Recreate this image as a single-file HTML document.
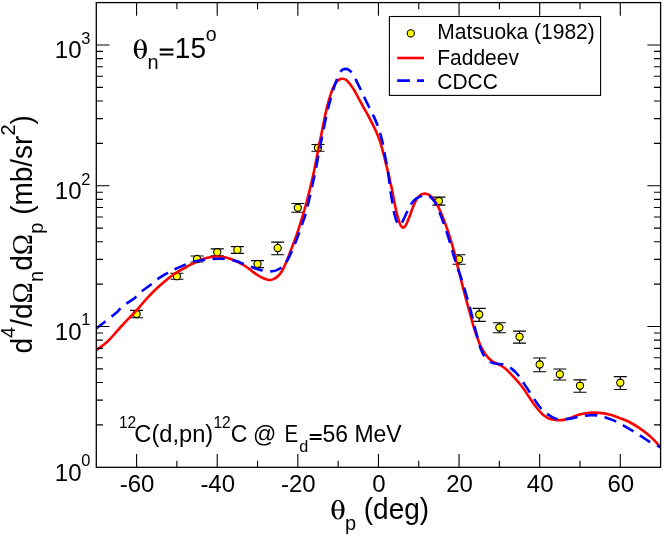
<!DOCTYPE html>
<html><head><meta charset="utf-8"><title>chart</title>
<style>html,body{margin:0;padding:0;background:#fff}svg{display:block;will-change:transform}text{font-family:"Liberation Sans",sans-serif;fill:#000}.g{font-family:"Liberation Serif",serif}</style></head>
<body>
<svg width="664" height="536" viewBox="0 0 664 536">
<rect x="0" y="0" width="664" height="536" fill="#fff"/>
<defs><clipPath id="cp"><rect x="96.30" y="2.60" width="564.30" height="464.70"/></clipPath></defs>
<path d="M136.61 310.41 V317.81 M130.11 310.41 h13 M130.11 317.81 h13 M176.91 273.27 V279.27 M170.41 273.27 h13 M170.41 279.27 h13 M197.07 256.07 V262.07 M190.57 256.07 h13 M190.57 262.07 h13 M217.22 248.89 V255.69 M210.72 248.89 h13 M210.72 255.69 h13 M237.38 246.59 V253.39 M230.88 246.59 h13 M230.88 253.39 h13 M257.53 260.60 V267.60 M251.03 260.60 h13 M251.03 267.60 h13 M277.68 242.12 V254.72 M271.18 242.12 h13 M271.18 254.72 h13 M297.84 203.46 V212.26 M291.34 203.46 h13 M291.34 212.26 h13 M317.99 144.49 V151.29 M311.49 144.49 h13 M311.49 151.29 h13 M438.91 197.13 V205.13 M432.41 197.13 h13 M432.41 205.13 h13 M459.06 254.69 V264.29 M452.56 254.69 h13 M452.56 264.29 h13 M479.22 308.34 V321.34 M472.72 308.34 h13 M472.72 321.34 h13 M499.37 322.70 V332.70 M492.87 322.70 h13 M492.87 332.70 h13 M519.53 331.09 V343.09 M513.03 331.09 h13 M513.03 343.09 h13 M539.68 357.99 V371.79 M533.18 357.99 h13 M533.18 371.79 h13 M559.83 369.05 V380.05 M553.33 369.05 h13 M553.33 380.05 h13 M579.99 379.91 V392.31 M573.49 379.91 h13 M573.49 392.31 h13 M620.29 376.63 V389.43 M613.79 376.63 h13 M613.79 389.43 h13" stroke="#000" stroke-width="1.1" fill="none"/>
<circle cx="136.61" cy="314.00" r="3.6" fill="#ffff00" stroke="#000" stroke-width="1.1"/>
<circle cx="176.91" cy="276.20" r="3.6" fill="#ffff00" stroke="#000" stroke-width="1.1"/>
<circle cx="197.07" cy="259.00" r="3.6" fill="#ffff00" stroke="#000" stroke-width="1.1"/>
<circle cx="217.22" cy="252.20" r="3.6" fill="#ffff00" stroke="#000" stroke-width="1.1"/>
<circle cx="237.38" cy="249.90" r="3.6" fill="#ffff00" stroke="#000" stroke-width="1.1"/>
<circle cx="257.53" cy="264.00" r="3.6" fill="#ffff00" stroke="#000" stroke-width="1.1"/>
<circle cx="277.68" cy="248.10" r="3.6" fill="#ffff00" stroke="#000" stroke-width="1.1"/>
<circle cx="297.84" cy="207.70" r="3.6" fill="#ffff00" stroke="#000" stroke-width="1.1"/>
<circle cx="317.99" cy="147.80" r="3.6" fill="#ffff00" stroke="#000" stroke-width="1.1"/>
<circle cx="438.91" cy="201.00" r="3.6" fill="#ffff00" stroke="#000" stroke-width="1.1"/>
<circle cx="459.06" cy="259.30" r="3.6" fill="#ffff00" stroke="#000" stroke-width="1.1"/>
<circle cx="479.22" cy="314.50" r="3.6" fill="#ffff00" stroke="#000" stroke-width="1.1"/>
<circle cx="499.37" cy="327.50" r="3.6" fill="#ffff00" stroke="#000" stroke-width="1.1"/>
<circle cx="519.53" cy="336.80" r="3.6" fill="#ffff00" stroke="#000" stroke-width="1.1"/>
<circle cx="539.68" cy="364.50" r="3.6" fill="#ffff00" stroke="#000" stroke-width="1.1"/>
<circle cx="559.83" cy="374.30" r="3.6" fill="#ffff00" stroke="#000" stroke-width="1.1"/>
<circle cx="579.99" cy="385.80" r="3.6" fill="#ffff00" stroke="#000" stroke-width="1.1"/>
<circle cx="620.29" cy="382.70" r="3.6" fill="#ffff00" stroke="#000" stroke-width="1.1"/>
<g clip-path="url(#cp)" fill="none" stroke-linejoin="round">
<path d="M96.20 350.30 C97.50 349.35 101.68 346.50 104.00 344.60 C106.32 342.70 108.08 340.97 110.10 338.90 C112.12 336.83 114.10 334.43 116.10 332.20 C118.10 329.97 119.95 327.83 122.10 325.50 C124.25 323.17 126.58 320.73 129.00 318.20 C131.42 315.67 134.43 312.67 136.60 310.30 C138.77 307.93 140.05 306.23 142.00 304.00 C143.95 301.77 145.87 299.48 148.30 296.90 C150.73 294.32 153.83 291.12 156.60 288.50 C159.37 285.88 162.15 283.48 164.90 281.20 C167.65 278.92 171.08 276.27 173.10 274.80 C175.12 273.33 175.62 273.27 177.00 272.40 C178.38 271.53 179.83 270.50 181.40 269.60 C182.97 268.70 184.70 267.90 186.40 267.00 C188.10 266.10 189.85 265.12 191.60 264.20 C193.35 263.28 195.13 262.32 196.90 261.50 C198.67 260.68 200.45 259.93 202.20 259.30 C203.95 258.67 205.65 258.12 207.40 257.70 C209.15 257.28 210.93 257.00 212.70 256.80 C214.47 256.60 216.23 256.47 218.00 256.50 C219.77 256.53 221.55 256.72 223.30 257.00 C225.05 257.28 226.65 257.62 228.50 258.20 C230.35 258.78 232.65 259.77 234.40 260.50 C236.15 261.23 237.37 261.77 239.00 262.60 C240.63 263.43 242.53 264.47 244.20 265.50 C245.87 266.53 247.37 267.62 249.00 268.80 C250.63 269.98 252.33 271.40 254.00 272.60 C255.67 273.80 257.42 275.05 259.00 276.00 C260.58 276.95 262.17 277.70 263.50 278.30 C264.83 278.90 265.85 279.32 267.00 279.60 C268.15 279.88 269.07 280.20 270.40 280.00 C271.73 279.80 273.48 279.28 275.00 278.40 C276.52 277.52 278.12 276.33 279.50 274.70 C280.88 273.07 282.05 271.00 283.30 268.60 C284.55 266.20 285.75 263.32 287.00 260.30 C288.25 257.28 289.55 253.77 290.80 250.50 C292.05 247.23 293.30 243.97 294.50 240.70 C295.70 237.43 296.98 233.92 298.00 230.90 C299.02 227.88 299.80 225.17 300.60 222.60 C301.40 220.03 301.83 218.77 302.80 215.50 C303.77 212.23 305.17 207.60 306.40 203.00 C307.63 198.40 308.93 193.18 310.20 187.90 C311.47 182.62 312.87 176.60 314.00 171.30 C315.13 166.00 316.12 160.63 317.00 156.10 C317.88 151.57 318.62 147.53 319.30 144.10 C319.98 140.67 320.28 139.52 321.10 135.50 C321.92 131.48 323.18 124.85 324.20 120.00 C325.22 115.15 326.20 110.43 327.20 106.40 C328.20 102.37 329.20 98.95 330.20 95.80 C331.20 92.65 332.18 89.77 333.20 87.50 C334.22 85.23 335.28 83.53 336.30 82.20 C337.32 80.87 338.25 80.08 339.30 79.50 C340.35 78.92 341.47 78.63 342.60 78.70 C343.73 78.77 344.90 79.07 346.10 79.90 C347.30 80.73 348.42 81.93 349.80 83.70 C351.18 85.47 352.88 87.98 354.40 90.50 C355.92 93.02 357.40 96.03 358.90 98.80 C360.40 101.57 361.88 104.33 363.40 107.10 C364.92 109.87 366.47 112.55 368.00 115.40 C369.53 118.25 371.17 121.33 372.60 124.20 C374.03 127.07 375.43 129.95 376.60 132.60 C377.77 135.25 378.58 137.08 379.60 140.10 C380.62 143.12 381.68 146.92 382.70 150.70 C383.72 154.48 384.70 158.78 385.70 162.80 C386.70 166.82 387.88 171.35 388.70 174.80 C389.52 178.25 390.07 181.12 390.60 183.50 C391.13 185.88 391.35 186.42 391.90 189.10 C392.45 191.78 393.20 196.08 393.90 199.60 C394.60 203.12 395.35 206.92 396.10 210.20 C396.85 213.48 397.63 216.78 398.40 219.30 C399.17 221.82 399.95 223.92 400.70 225.30 C401.45 226.68 402.15 227.47 402.90 227.60 C403.65 227.73 404.43 227.12 405.20 226.10 C405.97 225.08 406.62 223.52 407.50 221.50 C408.38 219.48 409.50 216.63 410.50 214.00 C411.50 211.37 412.50 208.10 413.50 205.70 C414.50 203.30 415.37 201.37 416.50 199.60 C417.63 197.83 418.92 196.10 420.30 195.10 C421.68 194.10 423.28 193.60 424.80 193.60 C426.32 193.60 427.88 194.10 429.40 195.10 C430.92 196.10 432.40 197.58 433.90 199.60 C435.40 201.62 436.88 204.17 438.40 207.20 C439.92 210.23 441.48 214.03 443.00 217.80 C444.52 221.57 446.12 225.78 447.50 229.80 C448.88 233.82 450.23 238.33 451.30 241.90 C452.37 245.47 453.02 247.83 453.90 251.20 C454.78 254.57 455.52 257.77 456.60 262.10 C457.68 266.43 459.13 272.17 460.40 277.20 C461.67 282.23 462.95 287.52 464.20 292.30 C465.45 297.08 466.73 301.62 467.90 305.90 C469.07 310.18 470.20 314.38 471.20 318.00 C472.20 321.62 472.95 324.50 473.90 327.60 C474.85 330.70 475.90 333.83 476.90 336.60 C477.90 339.37 478.90 341.93 479.90 344.20 C480.90 346.47 481.88 348.40 482.90 350.20 C483.92 352.00 484.98 353.62 486.00 355.00 C487.02 356.38 487.87 357.42 489.00 358.50 C490.13 359.58 491.42 360.62 492.80 361.50 C494.18 362.38 495.80 363.03 497.30 363.80 C498.80 364.57 500.28 365.15 501.80 366.10 C503.32 367.05 504.88 368.17 506.40 369.50 C507.92 370.83 509.43 372.58 510.90 374.10 C512.37 375.62 513.77 377.03 515.20 378.60 C516.63 380.17 518.02 381.67 519.50 383.50 C520.98 385.33 522.58 387.47 524.10 389.60 C525.62 391.73 527.10 394.08 528.60 396.30 C530.10 398.52 531.58 400.78 533.10 402.90 C534.62 405.02 536.18 407.15 537.70 409.00 C539.22 410.85 540.70 412.62 542.20 414.00 C543.70 415.38 545.18 416.42 546.70 417.30 C548.22 418.18 549.78 418.85 551.30 419.30 C552.82 419.75 554.42 419.85 555.80 420.00 C557.18 420.15 558.15 420.27 559.60 420.20 C561.05 420.13 563.10 419.85 564.50 419.60 C565.90 419.35 566.87 419.03 568.00 418.70 C569.13 418.37 570.20 418.00 571.30 417.60 C572.40 417.20 573.48 416.72 574.60 416.30 C575.72 415.88 576.60 415.52 578.00 415.10 C579.40 414.68 581.17 414.17 583.00 413.80 C584.83 413.43 587.12 413.10 589.00 412.90 C590.88 412.70 592.17 412.57 594.30 412.60 C596.43 412.63 599.30 412.77 601.80 413.10 C604.30 413.43 606.78 413.97 609.30 414.60 C611.82 415.23 614.38 416.03 616.90 416.90 C619.42 417.77 621.88 418.70 624.40 419.80 C626.92 420.90 629.48 422.12 632.00 423.50 C634.52 424.88 636.98 426.38 639.50 428.10 C642.02 429.82 644.58 431.72 647.10 433.80 C649.62 435.88 652.33 438.28 654.60 440.60 C656.87 442.92 659.68 446.52 660.70 447.70" stroke="#ff0000" stroke-width="2.6"/>
<path d="M96.20 328.60 C97.61 327.50 101.35 324.58 104.65 322.00 C107.95 319.42 113.41 315.30 116.00 313.10 C118.59 310.90 118.40 310.42 120.20 308.80 C122.00 307.18 124.38 305.20 126.80 303.40 C129.22 301.60 132.22 300.00 134.70 298.00 C137.18 296.00 138.88 293.73 141.70 291.40 C144.52 289.07 148.98 286.05 151.60 284.00 C154.22 281.95 154.70 280.97 157.40 279.10 C160.10 277.23 164.90 274.43 167.80 272.80 C170.70 271.17 171.77 270.72 174.80 269.30 C177.83 267.88 182.93 265.57 186.00 264.30 C189.07 263.03 189.98 262.45 193.20 261.70 C196.42 260.95 202.05 260.25 205.30 259.80 C208.55 259.35 210.50 259.17 212.70 259.00 C214.90 258.83 216.48 258.80 218.50 258.80 C220.52 258.80 221.88 258.62 224.80 259.00 C227.72 259.38 233.13 260.38 236.00 261.10 C238.87 261.82 239.48 262.37 242.00 263.30 C244.52 264.23 248.32 265.68 251.10 266.70 C253.88 267.72 256.18 268.65 258.70 269.40 C261.22 270.15 263.93 270.90 266.20 271.20 C268.47 271.50 270.53 271.38 272.30 271.20 C274.07 271.02 275.20 270.78 276.80 270.10 C278.40 269.42 280.38 268.35 281.90 267.10 C283.42 265.85 284.60 264.48 285.90 262.60 C287.20 260.72 288.45 258.32 289.70 255.80 C290.95 253.28 292.17 250.40 293.40 247.50 C294.63 244.60 295.90 241.55 297.10 238.40 C298.30 235.25 299.58 231.50 300.60 228.60 C301.62 225.70 302.43 223.18 303.20 221.00 C303.97 218.82 304.28 218.75 305.20 215.50 C306.12 212.25 307.48 206.62 308.70 201.50 C309.92 196.38 311.23 190.60 312.50 184.80 C313.77 179.00 315.17 172.48 316.30 166.70 C317.43 160.92 318.28 155.30 319.30 150.10 C320.32 144.90 321.22 141.28 322.40 135.50 C323.58 129.72 325.10 121.27 326.40 115.40 C327.70 109.53 328.93 104.95 330.20 100.30 C331.47 95.65 332.87 91.02 334.00 87.50 C335.13 83.98 335.82 81.97 337.00 79.20 C338.18 76.43 339.72 72.62 341.10 70.90" stroke="#0000ff" stroke-width="2.6" stroke-dasharray="12.3 7.5" stroke-dashoffset="0.35"/>
<path d="M341.10 70.90 C342.48 69.18 343.97 69.03 345.30 68.90 C346.63 68.77 347.97 69.40 349.10 70.10 C350.23 70.80 350.97 71.47 352.10 73.10 C353.23 74.73 354.52 77.25 355.90 79.90 C357.28 82.55 358.88 85.85 360.40 89.00 C361.92 92.15 363.48 95.65 365.00 98.80 C366.52 101.95 368.00 104.88 369.50 107.90 C371.00 110.92 372.65 113.97 374.00 116.90 C375.35 119.83 376.53 122.63 377.60 125.50 C378.67 128.37 379.55 131.17 380.40 134.10 C381.25 137.03 381.95 139.58 382.70 143.10 C383.45 146.62 384.15 151.17 384.90 155.20 C385.65 159.23 386.52 163.33 387.20 167.30 C387.88 171.27 388.47 175.12 389.00 179.00 C389.53 182.88 389.83 186.65 390.40 190.60 C390.97 194.55 391.70 198.68 392.40 202.70 C393.10 206.72 393.77 211.27 394.60 214.70 C395.43 218.13 396.55 221.58 397.40 223.30 C398.25 225.02 398.78 225.42 399.70 225.00 C400.62 224.58 401.48 223.38 402.90 220.80 C404.32 218.22 406.68 212.52 408.20 209.50 C409.72 206.48 410.62 204.55 412.00 202.70" stroke="#0000ff" stroke-width="2.6" stroke-dasharray="12.3 7.5"/>
<path d="M412.00 202.70 C413.38 200.85 414.87 199.53 416.50 198.40 C418.13 197.27 420.42 196.50 421.80 195.90 C423.18 195.30 423.42 194.68 424.80 194.80 C426.18 194.92 428.45 195.42 430.10 196.60 C431.75 197.78 433.32 199.75 434.70 201.90 C436.08 204.05 437.15 206.60 438.40 209.50 C439.65 212.40 440.93 215.92 442.20 219.30 C443.47 222.68 444.73 226.03 446.00 229.80 C447.27 233.57 448.67 238.12 449.80 241.90 C450.93 245.68 451.77 248.98 452.80 252.50 C453.83 256.02 454.62 258.77 456.00 263.00 C457.38 267.23 459.37 272.52 461.10 277.90 C462.83 283.28 464.75 289.63 466.40 295.30 C468.05 300.97 469.63 306.65 471.00 311.90 C472.37 317.15 473.48 322.43 474.60 326.80 C475.72 331.17 476.68 334.45 477.70 338.10 C478.72 341.75 479.57 345.67 480.70 348.70 C481.83 351.73 482.73 354.03 484.50 356.30 C486.27 358.57 489.17 361.05 491.30 362.30" stroke="#0000ff" stroke-width="2.6" stroke-dasharray="12.3 7.5"/>
<path d="M491.30 362.30 C493.43 363.55 495.30 363.42 497.30 363.80 C499.30 364.18 501.17 363.97 503.30 364.60 C505.43 365.23 508.08 366.35 510.10 367.60 C512.12 368.85 513.75 370.47 515.40 372.10 C517.05 373.73 518.80 375.82 520.00 377.40 C521.20 378.98 521.42 379.80 522.60 381.60 C523.78 383.40 525.60 385.95 527.10 388.20 C528.60 390.45 530.10 392.82 531.60 395.10 C533.10 397.38 534.58 399.75 536.10 401.90 C537.62 404.05 539.18 406.25 540.70 408.00 C542.22 409.75 543.70 411.15 545.20 412.40 C546.70 413.65 548.18 414.55 549.70 415.50 C551.22 416.45 552.78 417.47 554.30 418.10 C555.82 418.73 556.78 419.13 558.80 419.30 C560.82 419.47 564.13 419.30 566.40 419.10 C568.67 418.90 570.40 418.48 572.40 418.10 C574.40 417.72 576.38 417.18 578.40 416.80 C580.42 416.42 582.48 416.07 584.50 415.80 C586.52 415.53 588.38 415.27 590.50 415.20 C592.62 415.13 594.82 415.07 597.20 415.40 C599.58 415.73 602.28 416.45 604.80 417.20" stroke="#0000ff" stroke-width="2.6" stroke-dasharray="12.3 7.5"/>
<path d="M604.80 417.20 C607.32 417.95 609.78 418.85 612.30 419.90 C614.82 420.95 617.38 422.18 619.90 423.50 C622.42 424.82 624.88 426.33 627.40 427.80 C629.92 429.27 632.48 430.75 635.00 432.30 C637.52 433.85 639.98 435.47 642.50 437.10 C645.02 438.73 647.57 440.63 650.10 442.10 C652.63 443.57 655.93 445.02 657.70 445.90 C659.47 446.78 660.20 447.15 660.70 447.40" stroke="#0000ff" stroke-width="2.6" stroke-dasharray="12.3 7.5"/>
</g>
<path d="M136.61 467.30 v-13.20 M136.61 2.60 v13.20 M176.91 467.30 v-6.60 M176.91 2.60 v6.60 M217.22 467.30 v-13.20 M217.22 2.60 v13.20 M257.53 467.30 v-6.60 M257.53 2.60 v6.60 M297.84 467.30 v-13.20 M297.84 2.60 v13.20 M338.14 467.30 v-6.60 M338.14 2.60 v6.60 M378.45 467.30 v-13.20 M378.45 2.60 v13.20 M418.76 467.30 v-6.60 M418.76 2.60 v6.60 M459.06 467.30 v-13.20 M459.06 2.60 v13.20 M499.37 467.30 v-6.60 M499.37 2.60 v6.60 M539.68 467.30 v-13.20 M539.68 2.60 v13.20 M579.99 467.30 v-6.60 M579.99 2.60 v6.60 M620.29 467.30 v-13.20 M620.29 2.60 v13.20 M96.30 424.92 h6.60 M660.60 424.92 h-6.60 M96.30 400.13 h6.60 M660.60 400.13 h-6.60 M96.30 382.55 h6.60 M660.60 382.55 h-6.60 M96.30 368.90 h6.60 M660.60 368.90 h-6.60 M96.30 357.76 h6.60 M660.60 357.76 h-6.60 M96.30 348.33 h6.60 M660.60 348.33 h-6.60 M96.30 340.17 h6.60 M660.60 340.17 h-6.60 M96.30 332.97 h6.60 M660.60 332.97 h-6.60 M96.30 326.53 h13.20 M660.60 326.53 h-13.20 M96.30 284.15 h6.60 M660.60 284.15 h-6.60 M96.30 259.36 h6.60 M660.60 259.36 h-6.60 M96.30 241.77 h6.60 M660.60 241.77 h-6.60 M96.30 228.13 h6.60 M660.60 228.13 h-6.60 M96.30 216.98 h6.60 M660.60 216.98 h-6.60 M96.30 207.56 h6.60 M660.60 207.56 h-6.60 M96.30 199.39 h6.60 M660.60 199.39 h-6.60 M96.30 192.19 h6.60 M660.60 192.19 h-6.60 M96.30 185.75 h13.20 M660.60 185.75 h-13.20 M96.30 143.37 h6.60 M660.60 143.37 h-6.60 M96.30 118.59 h6.60 M660.60 118.59 h-6.60 M96.30 101.00 h6.60 M660.60 101.00 h-6.60 M96.30 87.35 h6.60 M660.60 87.35 h-6.60 M96.30 76.21 h6.60 M660.60 76.21 h-6.60 M96.30 66.78 h6.60 M660.60 66.78 h-6.60 M96.30 58.62 h6.60 M660.60 58.62 h-6.60 M96.30 51.42 h6.60 M660.60 51.42 h-6.60 M96.30 44.98 h13.20 M660.60 44.98 h-13.20" stroke="#000" stroke-width="1.1" fill="none"/>
<rect x="96.30" y="2.60" width="564.30" height="464.70" fill="none" stroke="#000" stroke-width="1.3"/>
<rect x="389.4" y="16.5" width="211.2" height="78.9" fill="#fff" stroke="#000" stroke-width="1.1"/>
<circle cx="410.8" cy="33.4" r="3.6" fill="#ffff00" stroke="#000" stroke-width="1.1"/>
<path d="M397.2 58.0 H424.0" stroke="#ff0000" stroke-width="2.6"/>
<path d="M397.2 80.65 H424.0" stroke="#0000ff" stroke-width="2.6" stroke-dasharray="12.7 7.2"/>
<text x="437.3" y="38.8" transform="matrix(1 0 0 1.028 0 -1.086)" font-size="21">Matsuoka (1982)</text>
<text x="437.3" y="65.2" transform="matrix(1 0 0 1.028 0 -1.826)" font-size="21">Faddeev</text>
<text x="437.3" y="88.6" transform="matrix(1 0 0 1.028 0 -2.481)" font-size="21">CDCC</text>
<text x="137.11" y="492.4" transform="matrix(1 0 0 1.028 0 -13.787)" font-size="24" text-anchor="middle">-60</text>
<text x="217.72" y="492.4" transform="matrix(1 0 0 1.028 0 -13.787)" font-size="24" text-anchor="middle">-40</text>
<text x="298.34" y="492.4" transform="matrix(1 0 0 1.028 0 -13.787)" font-size="24" text-anchor="middle">-20</text>
<text x="378.95" y="492.4" transform="matrix(1 0 0 1.028 0 -13.787)" font-size="24" text-anchor="middle">0</text>
<text x="459.56" y="492.4" transform="matrix(1 0 0 1.028 0 -13.787)" font-size="24" text-anchor="middle">20</text>
<text x="540.18" y="492.4" transform="matrix(1 0 0 1.028 0 -13.787)" font-size="24" text-anchor="middle">40</text>
<text x="620.79" y="492.4" transform="matrix(1 0 0 1.028 0 -13.787)" font-size="24" text-anchor="middle">60</text>
<text x="81.5" y="480.70" transform="matrix(1 0 0 1.028 0 -13.460)" font-size="24" text-anchor="end">10</text>
<text x="81.3" y="466.10" transform="matrix(1 0 0 1.028 0 -13.051)" font-size="16.5">0</text>
<text x="81.5" y="339.93" transform="matrix(1 0 0 1.028 0 -9.518)" font-size="24" text-anchor="end">10</text>
<text x="81.3" y="325.33" transform="matrix(1 0 0 1.028 0 -9.109)" font-size="16.5">1</text>
<text x="81.5" y="199.15" transform="matrix(1 0 0 1.028 0 -5.576)" font-size="24" text-anchor="end">10</text>
<text x="81.3" y="184.55" transform="matrix(1 0 0 1.028 0 -5.167)" font-size="16.5">2</text>
<text x="81.5" y="58.38" transform="matrix(1 0 0 1.028 0 -1.635)" font-size="24" text-anchor="end">10</text>
<text x="81.3" y="43.78" transform="matrix(1 0 0 1.028 0 -1.226)" font-size="16.5">3</text>
<path d="M331.40 509.70 a6.60 9.90 0 1 0 13.20 0 a6.60 9.90 0 1 0 -13.20 0 Z M334.45 509.70 a3.55 9.00 0 1 0 7.10 0 a3.55 9.00 0 1 0 -7.10 0 Z" fill="#000" fill-rule="evenodd"/>
<rect x="334.00" y="509.40" width="8" height="1.15" fill="#000"/>
<text x="344.9" y="530.5" transform="matrix(1 0 0 1.028 0 -14.854)" font-size="20">p</text>
<text x="356.0" y="518.8" transform="matrix(1 0 0 1.028 0 -14.526)" font-size="28" xml:space="preserve"> (deg)</text>
<path d="M133.75 49.05 a6.60 9.90 0 1 0 13.20 0 a6.60 9.90 0 1 0 -13.20 0 Z M136.80 49.05 a3.55 9.00 0 1 0 7.10 0 a3.55 9.00 0 1 0 -7.10 0 Z" fill="#000" fill-rule="evenodd"/>
<rect x="136.35" y="48.75" width="8" height="1.15" fill="#000"/>
<text x="147.4" y="69.3" transform="matrix(1 0 0 1.028 0 -1.940)" font-size="20">n</text>
<path d="M159.7 48.5h13.7v2.2h-13.7z M159.7 53.4h13.7v2.2h-13.7z" fill="#000"/>
<text x="174.85" y="58.4" transform="matrix(1 0 0 1.028 0 -1.635)" font-size="28">15</text>
<text x="205.8" y="40.9" transform="matrix(1 0 0 1.028 0 -1.145)" font-size="19.5">o</text>
<text x="118.92" y="427.90" transform="matrix(1 0 0 1.028 0 -11.981)" font-size="15.5" xml:space="preserve">12</text>
<text x="134.30" y="441.60" transform="matrix(1 0 0 1.028 0 -12.365)" font-size="23.7" xml:space="preserve">C(d,pn)</text>
<text x="213.42" y="427.70" transform="matrix(1 0 0 1.028 0 -11.976)" font-size="15.5" xml:space="preserve">12</text>
<text x="230.73" y="441.60" transform="matrix(1 0 0 1.028 0 -12.365)" font-size="23" xml:space="preserve">C</text>
<text x="252.89" y="441.60" transform="matrix(1 0 0 1.028 0 -12.365)" font-size="23" xml:space="preserve">@</text>
<text x="284.41" y="441.60" transform="matrix(1 0 0 1.028 0 -12.365)" font-size="23" textLength="13.7" lengthAdjust="spacingAndGlyphs" xml:space="preserve">E</text>
<text x="299.32" y="451.60" transform="matrix(1 0 0 1.028 0 -12.645)" font-size="16.2" xml:space="preserve">d</text>
<path d="M309.7 434h11.9v1.9h-11.9z M309.7 438.1h11.9v1.9h-11.9z" fill="#000"/>
<text x="322.48" y="441.60" transform="matrix(1 0 0 1.028 0 -12.365)" font-size="23" xml:space="preserve">56 MeV</text>
<g transform="translate(32.2 353.5) rotate(-90)">
<text x="0.00" y="0.00" transform="matrix(1 0 0 1.028 0 -0.000)" font-size="28" xml:space="preserve">d</text>
<text x="15.60" y="-17.50" transform="matrix(1 0 0 1.028 0 0.490)" font-size="20" xml:space="preserve">4</text>
<text x="26.70" y="0.00" transform="matrix(1 0 0 1.028 0 -0.000)" font-size="28" xml:space="preserve">/d</text>
<text x="50.10" y="0.00" transform="matrix(1 0 0 1.028 0 -0.000)" font-size="28.7" class="g" xml:space="preserve">Ω</text>
<text x="71.60" y="10.80" transform="matrix(1 0 0 1.028 0 -0.302)" font-size="20" xml:space="preserve">n</text>
<text x="82.70" y="0.00" transform="matrix(1 0 0 1.028 0 -0.000)" font-size="28" xml:space="preserve">d</text>
<text x="98.30" y="0.00" transform="matrix(1 0 0 1.028 0 -0.000)" font-size="28.7" class="g" xml:space="preserve">Ω</text>
<text x="119.80" y="10.80" transform="matrix(1 0 0 1.028 0 -0.302)" font-size="20" xml:space="preserve">p</text>
<text x="130.90" y="0.00" transform="matrix(1 0 0 1.028 0 -0.000)" font-size="28" xml:space="preserve"> (mb/sr</text>
<text x="218.00" y="-17.50" transform="matrix(1 0 0 1.028 0 0.490)" font-size="20" xml:space="preserve">2</text>
<text x="229.10" y="0.00" transform="matrix(1 0 0 1.028 0 -0.000)" font-size="28" xml:space="preserve">)</text>
</g>
</svg></body></html>
